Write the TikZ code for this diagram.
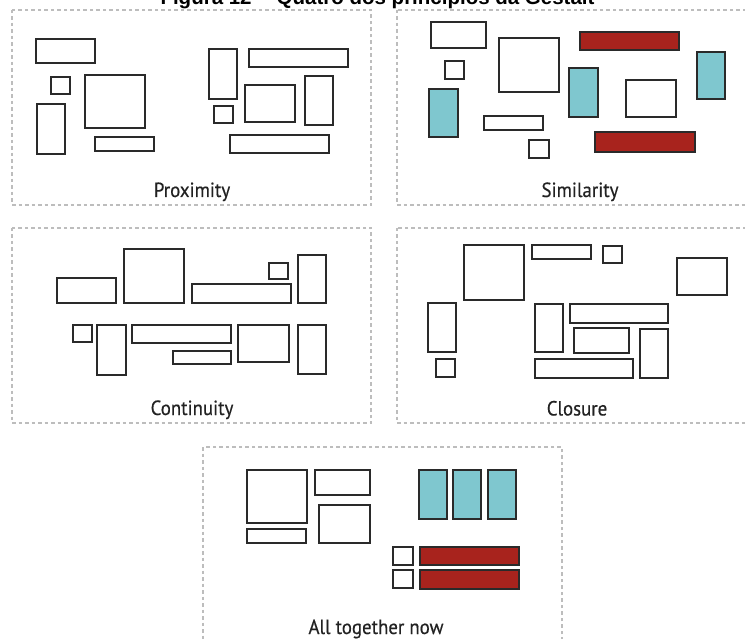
\documentclass[tikz,border=0pt]{standalone}
\usepackage{fontspec}
\newfontfamily\titlefont{Liberation Sans}
\newfontfamily\labfont[FakeStretch=0.92,FakeBold=0.4]{PT Sans}
\definecolor{boxred}{HTML}{A8231D}
\definecolor{boxblue}{HTML}{7FC7CF}
\definecolor{edge}{HTML}{2A2A2A}
\definecolor{frame}{HTML}{BDBDBD}
\definecolor{labtext}{HTML}{222222}
\tikzset{
  box/.style={draw=edge, line width=1.9pt, fill=white},
  redbox/.style={box, fill=boxred},
  bluebox/.style={box, fill=boxblue},
  panel/.style={draw=frame, line width=1.2pt, dash pattern=on 3.5pt off 3pt},
  lab/.style={font=\labfont\fontsize{20.5}{24}\selectfont, text=labtext, anchor=base, inner sep=0pt},
  ttl/.style={font=\titlefont\bfseries\fontsize{20.5}{24}\selectfont, anchor=base, inner sep=0pt}
}
\begin{document}
\begin{tikzpicture}[x=1pt,y=-1pt]
\useasboundingbox (0,0) rectangle (745,639);
\clip (0,0) rectangle (745,639);
\fill[white] (0,0) rectangle (745,639);
% title (cut by the top edge, as in the reference)
\node[ttl] (title) at (377.5,4.5) {Figura 12 -- Quatro dos princípios da Gestalt};
% panels
\draw[panel] (12,10) rectangle (371,205);
\draw[panel] (397,10) rectangle (760,205);
\draw[panel] (12,228) rectangle (371,423);
\draw[panel] (397,228) rectangle (760,423);
\draw[panel] (203,447) rectangle (562,660);
% Proximity
\draw[box] (35.7,39.3) rectangle (95,63.3);
\draw[box] (51,77.3) rectangle (70,94.3);
\draw[box] (85.3,74.7) rectangle (145.3,128.3);
\draw[box] (36.7,104) rectangle (65.3,154);
\draw[box] (95,137) rectangle (154.3,151);
\draw[box] (209,48.7) rectangle (237.3,98.7);
\draw[box] (248.7,48.7) rectangle (347.7,67.3);
\draw[box] (305.3,76) rectangle (332.7,124.7);
\draw[box] (244.7,85.3) rectangle (294.7,122);
\draw[box] (214.3,105.7) rectangle (233.3,122.7);
\draw[box] (230.3,134.7) rectangle (328.7,153.3);
\node[lab] (lprox) at (192,197) {Proximity};
% Similarity
\draw[box] (430.7,22) rectangle (486,47.7);
\draw[box] (444.7,61.3) rectangle (463.7,78.7);
\draw[box] (499.3,38) rectangle (558.7,92);
\draw[redbox] (580.3,32) rectangle (679.3,50);
\draw[bluebox] (429.3,88.7) rectangle (457.7,137.3);
\draw[bluebox] (569,68.3) rectangle (597.7,116.7);
\draw[box] (625.7,80.3) rectangle (676.3,117.3);
\draw[bluebox] (697,51.7) rectangle (725.3,99.3);
\draw[box] (483.7,116) rectangle (542.7,129.7);
\draw[box] (529,140.3) rectangle (548.7,157.7);
\draw[redbox] (595,132.3) rectangle (694.7,151.7);
\node[lab] (lsim) at (580,197) {Similarity};
% Continuity
\draw[box] (57.3,278.3) rectangle (116.3,303.3);
\draw[box] (124.3,249) rectangle (184.3,303.3);
\draw[box] (192,284.3) rectangle (291,303.3);
\draw[box] (269.3,262.7) rectangle (288.3,279);
\draw[box] (298,254.7) rectangle (326,303.3);
\draw[box] (72.7,325) rectangle (91.7,342.3);
\draw[box] (97.3,325) rectangle (126.3,374.7);
\draw[box] (132.3,325) rectangle (231,343.3);
\draw[box] (172.7,351) rectangle (231.3,364.3);
\draw[box] (238,325) rectangle (288.7,362.3);
\draw[box] (298,325) rectangle (326,374.3);
\node[lab] (lcont) at (192,415) {Continuity};
% Closure
\draw[box] (463.7,245.3) rectangle (524,299.7);
\draw[box] (531.7,245.3) rectangle (591,258.7);
\draw[box] (603.3,246) rectangle (622.3,263.3);
\draw[box] (676.7,258) rectangle (727.3,295.3);
\draw[box] (428.3,303) rectangle (455.7,352);
\draw[box] (436.3,359.3) rectangle (455.3,377.3);
\draw[box] (535,304.3) rectangle (562.7,352.3);
\draw[box] (569.7,304.3) rectangle (668,323);
\draw[box] (574.3,328) rectangle (629.3,353.3);
\draw[box] (640.3,328.7) rectangle (668,378);
\draw[box] (535,358.7) rectangle (633.3,378);
\node[lab] (lclos) at (577,415.5) {Closure};
% All together now
\draw[box] (247.3,469.7) rectangle (307.3,523.3);
\draw[box] (315.3,469.7) rectangle (370.3,495.3);
\draw[box] (247.3,529) rectangle (306.3,542.7);
\draw[box] (319.3,505.3) rectangle (370.3,542.7);
\draw[bluebox] (419,469.7) rectangle (447,518.7);
\draw[bluebox] (453,469.7) rectangle (481,518.7);
\draw[bluebox] (487.7,469.7) rectangle (515.7,518.7);
\draw[box] (393.3,547.3) rectangle (413.3,565);
\draw[redbox] (419.7,547.3) rectangle (519,565);
\draw[box] (393.3,570.3) rectangle (413.3,587.7);
\draw[redbox] (419.7,570.3) rectangle (519,588.7);
\node[lab] (lall) at (376,634) {All together now};
\end{tikzpicture}
\end{document}
